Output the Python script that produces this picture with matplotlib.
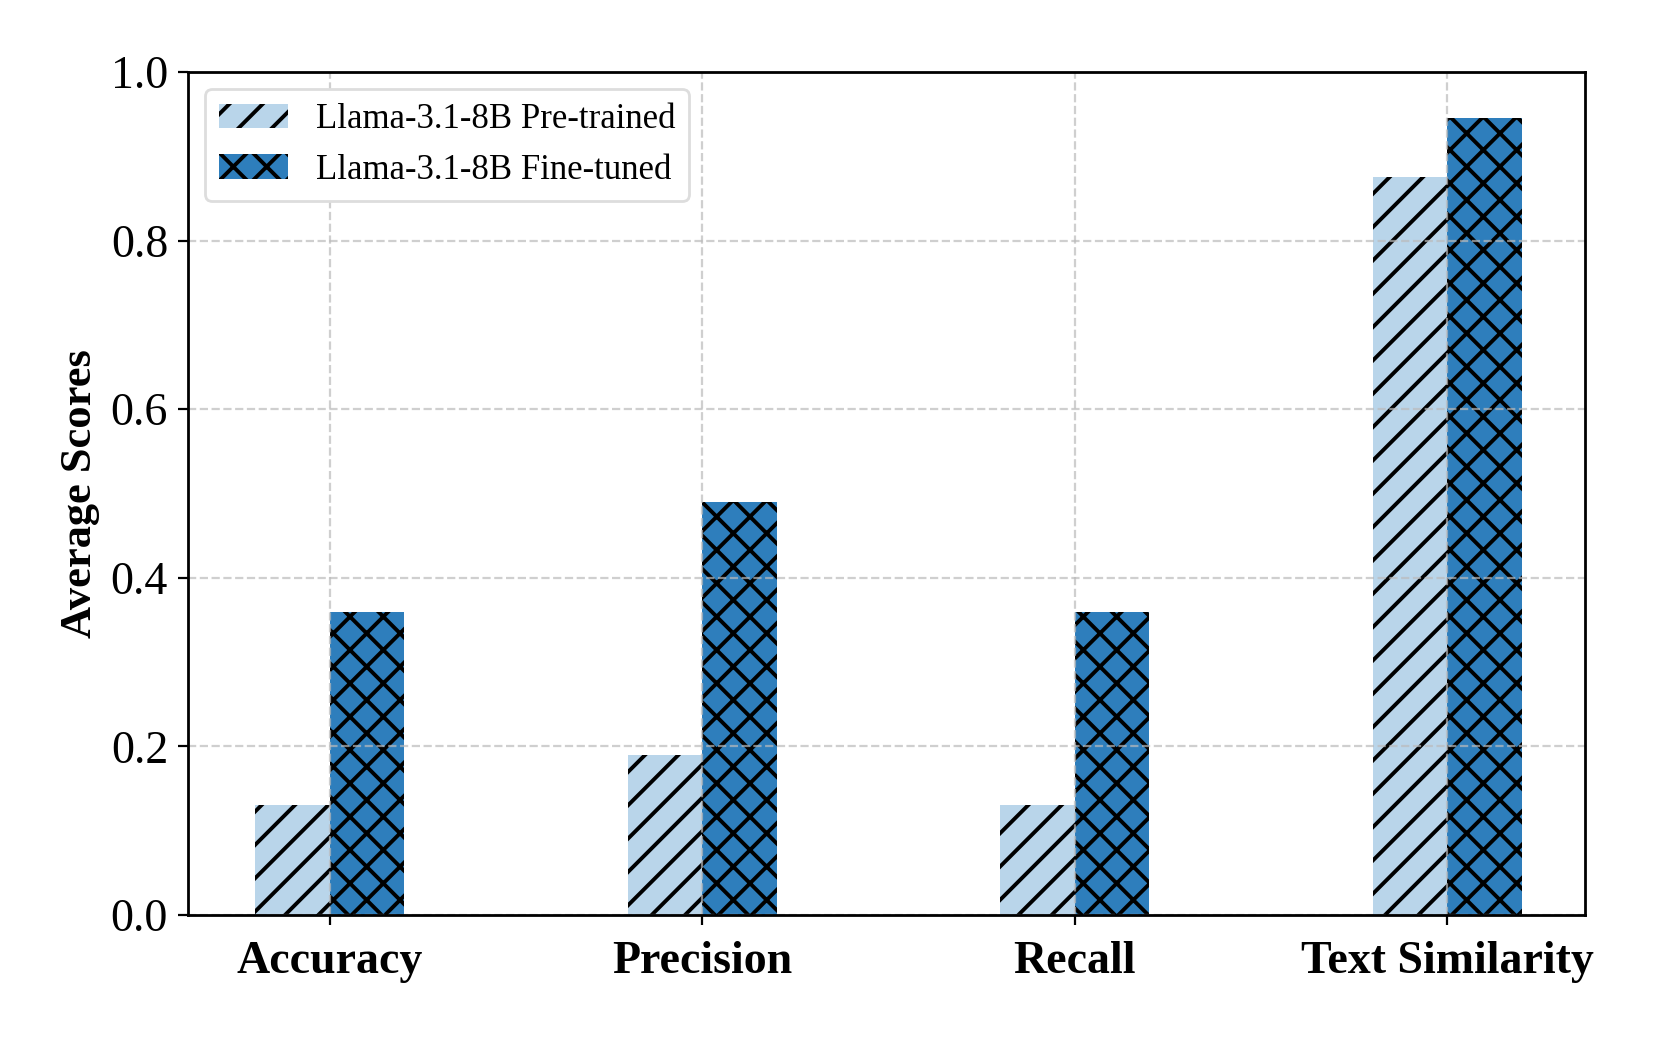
import numpy as np
import matplotlib
matplotlib.use("Agg")
import matplotlib.pyplot as plt

plt.rcParams['font.family'] = ['Liberation Serif', 'DejaVu Serif']
plt.rcParams['hatch.linewidth'] = 1.4

categories = ["Accuracy", "Precision", "Recall", "Text Similarity"]
pretrained = [0.13, 0.19, 0.13, 0.875]
finetuned = [0.36, 0.49, 0.36, 0.945]
series_names = ["Llama-3.1-8B Pre-trained", "Llama-3.1-8B Fine-tuned"]
yticks = [0.0, 0.2, 0.4, 0.6, 0.8, 1.0]

x = np.arange(len(categories))
width = 0.2

fig = plt.figure(figsize=(8.305, 5.19), dpi=200)
ax = fig.add_axes([0.1129, 0.1185, 0.8413, 0.8121])

ax.bar(x - width / 2, pretrained, width, color="#b9d5ea", edgecolor="black",
       linewidth=0, hatch="//", label=series_names[0], zorder=1)
ax.bar(x + width / 2, finetuned, width, color="#2e7ebc", edgecolor="black",
       linewidth=0, hatch="xx", label=series_names[1], zorder=1)

ax.set_xlim(-0.382, 3.37)
ax.set_ylim(0, 1.0)
ax.set_yticks(yticks)
ax.set_yticklabels([f"{v:.1f}" for v in yticks], fontsize=16.5)
ax.set_xticks(x)
ax.set_xticklabels(categories, fontsize=16.5, fontweight="bold")
ax.tick_params(axis="x", pad=6)
ax.set_ylabel("Average Scores", fontsize=16, fontweight="bold")

ax.grid(True, linestyle="--", color="#bbbbbb", alpha=0.7, linewidth=0.8, zorder=2)
ax.set_axisbelow(False)
for s in ax.spines.values():
    s.set_linewidth(1.0)
    s.set_zorder(3)

ax.legend(loc="upper left", fontsize=12.5, framealpha=1.0, edgecolor="#dddddd")

fig.savefig("out.png", dpi=200)
